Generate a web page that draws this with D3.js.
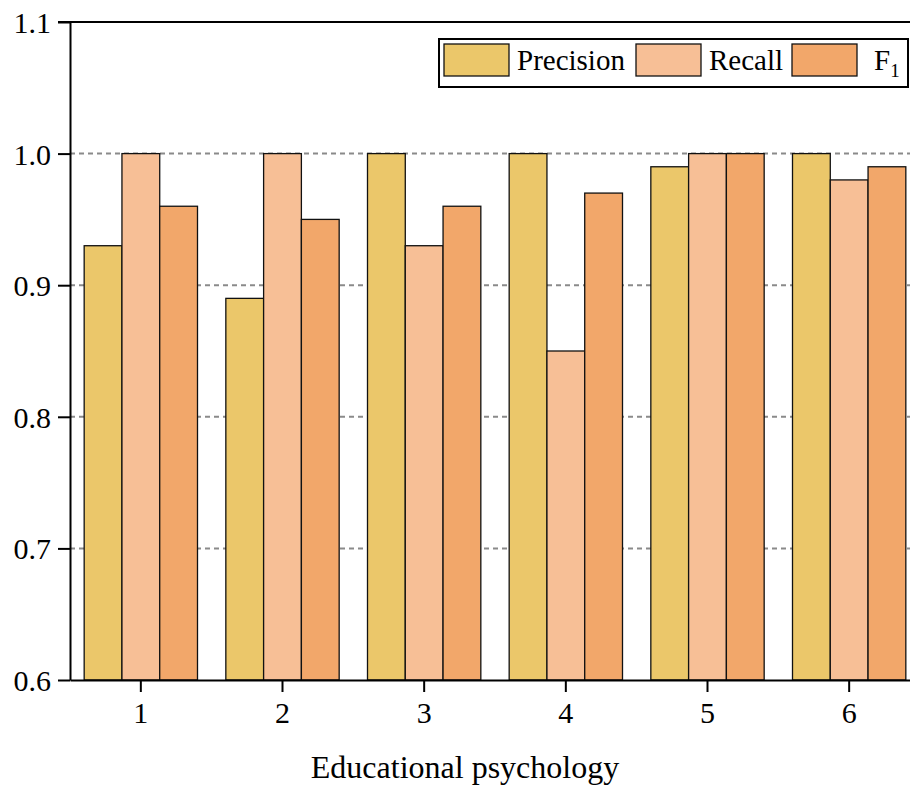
<!DOCTYPE html>
<html>
<head>
<meta charset="utf-8">
<script src="https://cdn.jsdelivr.net/npm/d3@7"></script>
<style>
  body { margin: 0; background: #fff; }
  svg text { font-family: "Liberation Serif", "Times New Roman", serif; fill: #000; }
</style>
</head>
<body>
<svg id="chart" width="910" height="787"></svg>
<script>
// chart values
var categories = ["1", "2", "3", "4", "5", "6"];
var seriesNames = ["Precision", "Recall", "F1"];
var precision = [0.93, 0.89, 1.00, 1.00, 0.99, 1.00];
var recall = [1.00, 1.00, 0.93, 0.85, 1.00, 0.98];
var f1 = [0.96, 0.95, 0.96, 0.97, 1.00, 0.99];
var yTicks = [0.6, 0.7, 0.8, 0.9, 1.0, 1.1];
var colors = ["#EBC76A", "#F7BF96", "#F2A76A"];

var series = [precision, recall, f1];

var svg = d3.select("#chart");
var mLeft = 70, mTop = 22, mRight = 920, mBottom = 680;

var x = d3.scaleBand().domain(categories).range([mLeft, mRight]).paddingInner(0.2).paddingOuter(0.1);
var x1 = d3.scaleBand().domain(d3.range(seriesNames.length)).range([0, x.bandwidth()]);
var y = d3.scaleLinear().domain([0.6, 1.1]).range([mBottom, mTop]);

// dashed grid
svg.append("g")
    .selectAll("line")
    .data(yTicks.filter(function (t) { return t > 0.6 && t < 1.1; }))
    .enter().append("line")
    .attr("x1", mLeft).attr("x2", mRight)
    .attr("y1", function (d) { return y(d); })
    .attr("y2", function (d) { return y(d); })
    .attr("stroke", "#8a8a8a")
    .attr("stroke-width", 2)
    .attr("stroke-dasharray", "5,4");

// bars
var groups = svg.append("g")
    .selectAll("g")
    .data(categories)
    .enter().append("g")
    .attr("transform", function (d) { return "translate(" + x(d) + ",0)"; });

groups.selectAll("rect")
    .data(function (d, i) { return series.map(function (s, j) { return { j: j, v: s[i] }; }); })
    .enter().append("rect")
    .attr("x", function (d) { return x1(d.j); })
    .attr("y", function (d) { return y(d.v); })
    .attr("width", x1.bandwidth())
    .attr("height", function (d) { return y(0.6) - y(d.v); })
    .attr("fill", function (d) { return colors[d.j]; })
    .attr("stroke", "#111")
    .attr("stroke-width", 1.3);

// axes
var yAxis = svg.append("g")
    .attr("transform", "translate(" + mLeft + ",0)")
    .call(d3.axisLeft(y).tickValues(yTicks).tickFormat(d3.format(".1f"))
        .tickSizeInner(12).tickSizeOuter(0).tickPadding(7));
var xAxis = svg.append("g")
    .attr("transform", "translate(0," + mBottom + ")")
    .call(d3.axisBottom(x).tickSizeInner(12).tickSizeOuter(0).tickPadding(10));

[yAxis, xAxis].forEach(function (a) {
    a.attr("font-family", "Liberation Serif").attr("font-size", 30);
    a.select(".domain").attr("stroke", "#000").attr("stroke-width", 2);
    a.selectAll(".tick line").attr("stroke", "#000").attr("stroke-width", 2);
    a.selectAll("text").style("font-size", "30px").attr("fill", "#000")
        .style("font-family", '"Liberation Serif", serif');
});
yAxis.selectAll(".tick text").attr("dy", "0.35em");

// top frame line
svg.append("line")
    .attr("x1", mLeft - 12).attr("x2", mRight)
    .attr("y1", mTop).attr("y2", mTop)
    .attr("stroke", "#000").attr("stroke-width", 2);

// axis title
svg.append("text")
    .attr("x", 465).attr("y", 778)
    .attr("text-anchor", "middle")
    .style("font-size", "32px")
    .text("Educational psychology");

// legend
var legend = svg.append("g");
legend.append("rect")
    .attr("x", 439).attr("y", 39).attr("width", 469).attr("height", 48)
    .attr("fill", "#fff").attr("stroke", "#000").attr("stroke-width", 2);

var legX = [444, 636, 792];
seriesNames.forEach(function (name, j) {
    legend.append("rect")
        .attr("x", legX[j]).attr("y", 44).attr("width", 65).attr("height", 32)
        .attr("fill", colors[j]).attr("stroke", "#111").attr("stroke-width", 1.3);
    var t = legend.append("text")
        .attr("x", j === 2 ? legX[j] + 82 : legX[j] + 73)
        .attr("y", 70)
        .style("font-size", "29px");
    if (name === "F1") {
        t.append("tspan").text("F");
        t.append("tspan").attr("dy", 7).style("font-size", "19px").text("1");
    } else {
        t.text(name);
    }
});
</script>
</body>
</html>
